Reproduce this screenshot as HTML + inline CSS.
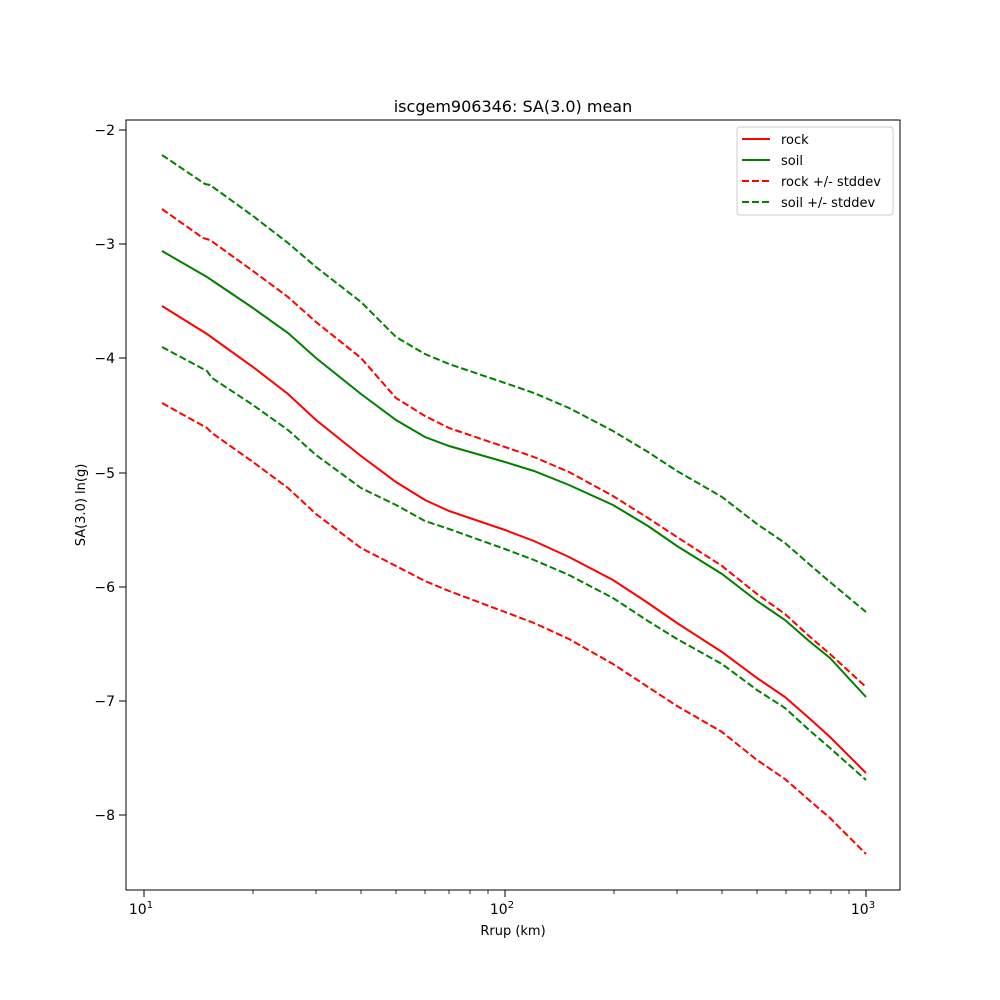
<!DOCTYPE html>
<html><head><meta charset="utf-8"><style>body{margin:0;background:#fff}svg{display:block}text{font-family:"DejaVu Sans","Liberation Sans",sans-serif;fill:#000}</style></head><body>
<svg width="1000" height="1000" viewBox="0 0 1000 1000" xmlns="http://www.w3.org/2000/svg">
<rect width="1000" height="1000" fill="#fff"/>
<text x="513" y="112" font-size="16" text-anchor="middle">iscgem906346: SA(3.0) mean</text>
<g fill="none" stroke-width="2">
<polyline stroke="#ff0000" points="162,306 207,334 253,367 288,394 316,420 361,456 396,482 425,500 449,511 505,530 534,541 569,557 613,580 648,603 677,623 722,652 757,678 785,697 809,718 830,737 866,773"/>
<polyline stroke="#008000" points="162,251 207,277 253,308 288,333 316,358 361,394 396,420 425,437 449,446 505,462 534,471 569,485 613,505 648,526 677,546 722,574 757,601 785,620 809,641 830,658 866,697"/>
<g stroke-dasharray="7,3">
<polyline stroke="#ff0000" points="162,209 203,238 210,240 253,271 288,297 316,322 361,358 396,398 425,416 449,428 505,447 534,457 569,472 613,496 648,518 677,537 722,566 757,594 785,614 809,636 830,654 866,687"/>
<polyline stroke="#ff0000" points="162,403 207,428 212,433 253,462 288,488 316,514 361,548 396,566 425,581 449,591 505,612 534,623 569,639 613,664 648,687 677,706 722,732 757,760 785,779 809,800 830,818 866,854"/>
<polyline stroke="#008000" points="162,155 205,184 210,185 253,216 288,243 316,267 361,302 396,337 425,354 449,364 505,383 534,393 569,408 613,431 648,452 677,471 722,497 757,524 785,543 809,564 830,582 866,612"/>
<polyline stroke="#008000" points="162,347 207,371 212,378 253,405 288,430 316,455 361,488 396,505 425,521 449,529 505,549 534,560 569,575 613,598 648,621 677,639 722,664 757,690 785,708 809,730 830,748 866,780"/>
</g></g>
<rect x="126" y="120" width="774" height="770" fill="none" stroke="#000" stroke-width="1"/>
<g stroke="#000" stroke-width="1">
<line x1="144" y1="890" x2="144" y2="897"/><line x1="505" y1="890" x2="505" y2="897"/><line x1="866" y1="890" x2="866" y2="897"/>
<line x1="126" y1="130" x2="119" y2="130"/><line x1="126" y1="244" x2="119" y2="244"/><line x1="126" y1="358" x2="119" y2="358"/><line x1="126" y1="473" x2="119" y2="473"/><line x1="126" y1="587" x2="119" y2="587"/><line x1="126" y1="701" x2="119" y2="701"/><line x1="126" y1="815" x2="119" y2="815"/>
</g>
<g stroke="#000" stroke-width="0.8">
<line x1="253" y1="890" x2="253" y2="894"/><line x1="316" y1="890" x2="316" y2="894"/><line x1="361" y1="890" x2="361" y2="894"/><line x1="396" y1="890" x2="396" y2="894"/><line x1="425" y1="890" x2="425" y2="894"/><line x1="449" y1="890" x2="449" y2="894"/><line x1="470" y1="890" x2="470" y2="894"/><line x1="488" y1="890" x2="488" y2="894"/>
<line x1="614" y1="890" x2="614" y2="894"/><line x1="677" y1="890" x2="677" y2="894"/><line x1="722" y1="890" x2="722" y2="894"/><line x1="757" y1="890" x2="757" y2="894"/><line x1="786" y1="890" x2="786" y2="894"/><line x1="810" y1="890" x2="810" y2="894"/><line x1="831" y1="890" x2="831" y2="894"/><line x1="849" y1="890" x2="849" y2="894"/>
</g>
<g font-size="14" text-anchor="middle">
<text x="141" y="914">10<tspan font-size="10" dy="-6">1</tspan></text>
<text x="502" y="914">10<tspan font-size="10" dy="-6">2</tspan></text>
<text x="863" y="914">10<tspan font-size="10" dy="-6">3</tspan></text>
</g>
<g font-size="14" text-anchor="end">
<text x="115" y="135">−2</text><text x="115" y="249">−3</text><text x="115" y="363">−4</text><text x="115" y="478">−5</text><text x="115" y="592">−6</text><text x="115" y="706">−7</text><text x="115" y="820">−8</text>
</g>
<text x="513" y="935" font-size="13" text-anchor="middle">Rrup (km)</text>
<text x="85" y="505" font-size="13" text-anchor="middle" transform="rotate(-90 85 505)">SA(3.0) ln(g)</text>
<rect x="737" y="127" width="156" height="88" rx="3" fill="#fff" stroke="#ccc"/>
<g stroke-width="2" fill="none">
<line x1="742" y1="139" x2="770" y2="139" stroke="#ff0000"/>
<line x1="742" y1="160" x2="770" y2="160" stroke="#008000"/>
<line x1="742" y1="181" x2="770" y2="181" stroke="#ff0000" stroke-dasharray="7,3"/>
<line x1="742" y1="202" x2="770" y2="202" stroke="#008000" stroke-dasharray="7,3"/>
</g>
<g font-size="13">
<text x="781" y="144">rock</text><text x="781" y="165">soil</text><text x="781" y="186">rock +/- stddev</text><text x="781" y="207">soil +/- stddev</text>
</g>
</svg>
</body></html>
